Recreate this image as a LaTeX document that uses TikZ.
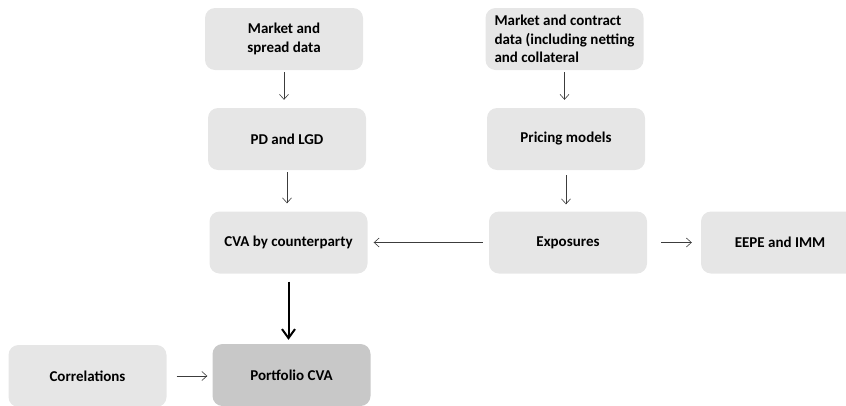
\documentclass[tikz,border=0pt]{standalone}
\usepackage{fontspec}
\setmainfont{Carlito}
\usetikzlibrary{arrows.meta}
\definecolor{boxgray}{RGB}{230,230,230}
\definecolor{darkbox}{RGB}{200,200,200}
\definecolor{arrowgray}{RGB}{60,60,60}
\begin{document}
\begin{tikzpicture}[x=1pt, y=-1pt,
  box/.style={rectangle, rounded corners=10pt, fill=boxgray, minimum width=158pt, minimum height=62pt, font=\fontsize{15}{18.5}\selectfont\bfseries, align=center},
  flow/.style={draw=arrowgray, line width=0.6pt, -{Straight Barb[length=5pt, width=9pt]}},
  bigflow/.style={draw=black, line width=2pt, -{Straight Barb[length=9pt, width=13pt, line width=2pt]}}]
\useasboundingbox (0,0) rectangle (846,405);
\clip (0,0) rectangle (846,405);
\node[box] (mkt) at (284,39){Market and\\spread data};
\node[box, align=left] (mktc) at (564.5,39){Market and contract\\data (including netting\\and collateral};
\node[box] (pd) at (287,139){PD and LGD};
\node[box] (pricing) at (566,139){Pricing models};
\node[box] (cva) at (288.5,242.5){CVA by counterparty};
\node[box] (expo) at (568,242.5){Exposures};
\node[box] (eepe) at (780,242.5){EEPE and IMM};
\node[box] (corr) at (87.5,376){Correlations};
\node[box, fill=darkbox] (port) at (291.5,375){Portfolio CVA};
\draw[flow, shorten <=2pt, shorten >=8pt](mkt.south) -- (mkt.south |- pd.north);
\draw[flow, shorten <=2pt, shorten >=8pt](mktc.south) -- (mktc.south |- pricing.north);
\draw[flow, shorten <=2pt, shorten >=8pt](pd.south) -- (pd.south |- cva.north);
\draw[flow, shorten <=5pt, shorten >=7pt](pricing.south) -- (pricing.south |- expo.north);
\draw[flow, shorten <=6pt, shorten >=6pt](expo.west) -- (expo.west -| cva.east);
\draw[flow, shorten <=14pt, shorten >=9pt](expo.east) -- (expo.east -| eepe.west);
\draw[bigflow, shorten <=8pt, shorten >=4pt](cva.south) -- (cva.south |- port.north);
\draw[flow, shorten <=10pt, shorten >=5pt](corr.east) -- (corr.east -| port.west);

\end{tikzpicture}
\end{document}
